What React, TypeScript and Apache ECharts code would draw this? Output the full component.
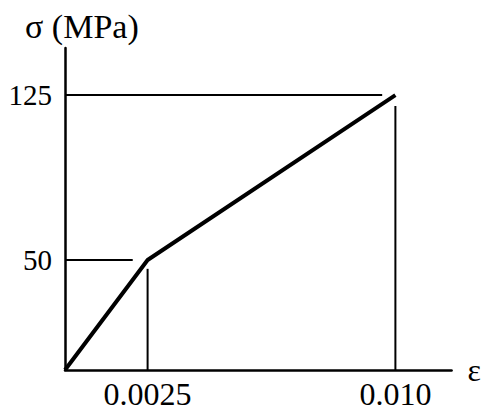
import React, { useEffect, useRef } from "react";
import * as echarts from "echarts";

const strain = [0, 0.0025, 0.01];
const stress = [0, 50, 125];
const xTickValues = [0.0025, 0.01];
const xTickLabels = ["0.0025", "0.010"];
const yTickValues = [50, 125];
const yTickLabels = ["50", "125"];
// guide lines
const guide125 = [[0, 125], [0.0096, 125]];
const guide50 = [[0, 50], [0.00205, 50]];
const guideV0025 = [[0.0025, 0], [0.0025, 46]];
const guideV010 = [[0.01, 0], [0.01, 120]];

const FONT = "'Liberation Serif', 'DejaVu Serif', serif";

export default function App() {
  const ref = useRef<HTMLDivElement>(null);
  useEffect(() => {
    if (!ref.current) return;
    const chart = echarts.init(ref.current, null, { renderer: "svg" });
    const guideStyle = { color: "#000", width: 2 };
    chart.setOption({
      animation: false,
      backgroundColor: "#fff",
      title: {
        text: "σ (MPa)",
        left: 20,
        top: 4,
        textStyle: { fontFamily: FONT, fontSize: 34, fontWeight: "normal", color: "#000" },
      },
      grid: { left: 65, right: 31, top: 48, bottom: 44, containLabel: false },
      xAxis: {
        type: "value",
        min: 0,
        max: 0.0117,
        name: "ε",
        nameLocation: "end",
        nameGap: 16,
        nameTextStyle: { fontFamily: FONT, fontSize: 32, color: "#000" },
        splitLine: { show: false },
        axisTick: { show: false },
        axisLine: { lineStyle: { color: "#000", width: 2.5 } },
        axisLabel: {
          customValues: xTickValues,
          formatter: (v: number) => {
            const i = xTickValues.findIndex((t) => Math.abs(t - v) < 1e-9);
            return i >= 0 ? xTickLabels[i] : "";
          },
          margin: 8,
          fontFamily: FONT,
          fontSize: 32,
          color: "#000",
        },
      },
      yAxis: {
        type: "value",
        min: 0,
        max: 146.4,
        splitLine: { show: false },
        axisTick: { show: false },
        axisLine: { show: true, lineStyle: { color: "#000", width: 2.5 } },
        axisLabel: {
          customValues: yTickValues,
          formatter: (v: number) => {
            const i = yTickValues.findIndex((t) => Math.abs(t - v) < 1e-9);
            return i >= 0 ? yTickLabels[i] : "";
          },
          margin: 13,
          fontFamily: FONT,
          fontSize: 29,
          color: "#000",
        },
      },
      series: [
        {
          type: "line",
          data: strain.map((x, i) => [x, stress[i]]),
          showSymbol: false,
          lineStyle: { color: "#000", width: 4 },
        },
        { type: "line", data: guide125, showSymbol: false, lineStyle: guideStyle },
        { type: "line", data: guide50, showSymbol: false, lineStyle: guideStyle },
        { type: "line", data: guideV0025, showSymbol: false, lineStyle: guideStyle },
        { type: "line", data: guideV010, showSymbol: false, lineStyle: guideStyle },
      ],
    });
    return () => chart.dispose();
  }, []);
  return (
    <div
      ref={ref}
      style={{ position: "absolute", left: 0, top: 0, width: 484, height: 414 }}
    />
  );
}
